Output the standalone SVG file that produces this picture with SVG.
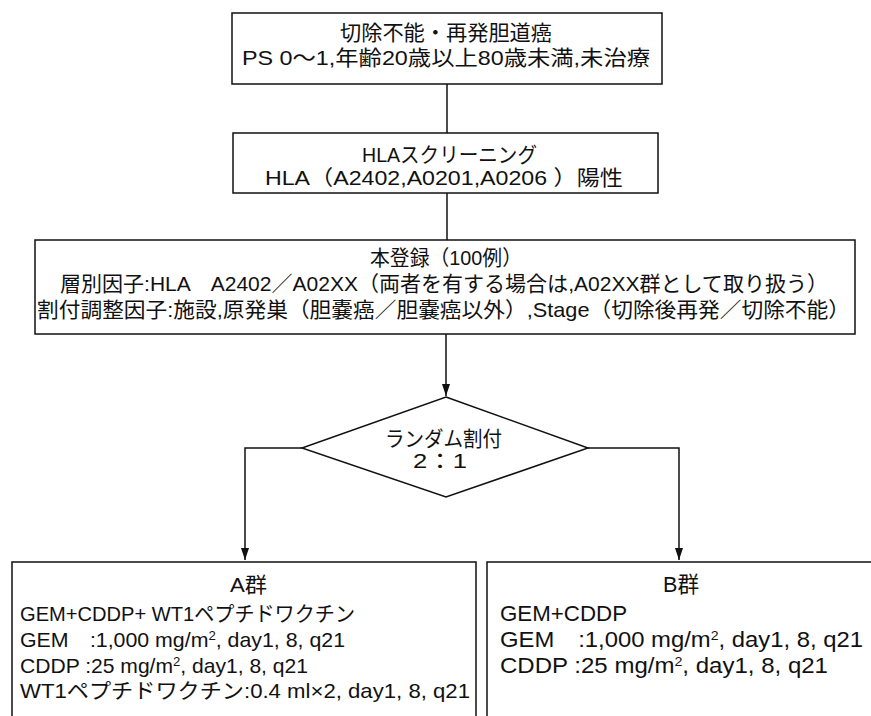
<svg xmlns="http://www.w3.org/2000/svg" width="871" height="716" viewBox="0 0 871 716">
<style>
.box{fill:#fff;stroke:#111;stroke-width:1.5}
.t{font-family:"Liberation Sans","Noto Sans CJK JP",sans-serif;font-size:21px;fill:#111}
.b{font-size:22px}
.ln{fill:none;stroke:#111;stroke-width:1.5}
.sup{font-size:13px}
</style>
<defs>
<marker id="ah" viewBox="0 0 12 8" refX="12" refY="4" markerWidth="12" markerHeight="8" markerUnits="userSpaceOnUse" orient="auto">
<path d="M0,0 L12,4 L0,8 z" fill="#111"/>
</marker>
</defs>
<rect width="871" height="716" fill="#fff"/>
<g id="connectors">
<line class="ln" x1="447" y1="84" x2="447" y2="133"/>
<line class="ln" x1="447" y1="193" x2="447" y2="240"/>
<line class="ln" x1="446" y1="334" x2="446" y2="396" marker-end="url(#ah)"/>
<polyline class="ln" points="302,448 245,448 245,560" marker-end="url(#ah)"/>
<polyline class="ln" points="588,448 679,448 679,560" marker-end="url(#ah)"/>
</g>
<g id="node-eligibility">
<rect class="box" x="232" y="13" width="430" height="71"/>
<text class="t" x="340" y="40" textLength="212" lengthAdjust="spacingAndGlyphs">切除不能・再発胆道癌</text>
<text class="t" x="242" y="65" textLength="408" lengthAdjust="spacingAndGlyphs">PS 0〜1,年齢20歳以上80歳未満,未治療</text>
</g>
<g id="node-hla">
<rect class="box" x="233" y="133" width="425" height="60"/>
<text class="t" x="362" y="162" textLength="175" lengthAdjust="spacingAndGlyphs">HLAスクリーニング</text>
<text class="t" x="265" y="185" textLength="358" lengthAdjust="spacingAndGlyphs">HLA（A2402,A0201,A0206 ）陽性</text>
</g>
<g id="node-registration">
<rect class="box" x="35" y="240" width="820" height="94"/>
<text class="t" x="370" y="265" textLength="152" lengthAdjust="spacingAndGlyphs">本登録（100例）</text>
<text class="t" x="60" y="291" textLength="768" lengthAdjust="spacingAndGlyphs">層別因子:HLA　A2402／A02XX（両者を有する場合は,A02XX群として取り扱う）</text>
<text class="t" x="37" y="317" textLength="813" lengthAdjust="spacingAndGlyphs">割付調整因子:施設,原発巣（胆嚢癌／胆嚢癌以外）,Stage（切除後再発／切除不能）</text>
</g>
<g id="node-random">
<polygon class="box" points="446,397 588,448 446,497 302,448"/>
<text class="t" x="385" y="446" textLength="117" lengthAdjust="spacingAndGlyphs">ランダム割付</text>
<text class="t" x="413" y="468" textLength="54" lengthAdjust="spacingAndGlyphs">2：1</text>
</g>
<g id="node-groupA">
<path class="box" d="M12,720 L12,562 L476,562 L476,720"/>
<text class="t" x="230" y="592" textLength="37" lengthAdjust="spacingAndGlyphs">A群</text>
<text class="t" x="20" y="621" textLength="335" lengthAdjust="spacingAndGlyphs">GEM+CDDP+ WT1ペプチドワクチン</text>
<text class="t" x="20" y="647" textLength="325" lengthAdjust="spacingAndGlyphs">GEM　:1,000 mg/m<tspan class="sup" dy="-7">2</tspan><tspan dy="7">, day1, 8, q21</tspan></text>
<text class="t" x="20" y="673" textLength="288" lengthAdjust="spacingAndGlyphs">CDDP :25 mg/m<tspan class="sup" dy="-7">2</tspan><tspan dy="7">, day1, 8, q21</tspan></text>
<text class="t" x="20" y="698" textLength="450" lengthAdjust="spacingAndGlyphs">WT1ペプチドワクチン:0.4 ml×2, day1, 8, q21</text>
</g>
<g id="node-groupB">
<path class="box" d="M487,720 L487,562 L880,562"/>
<text class="t b" x="663" y="592" textLength="36" lengthAdjust="spacingAndGlyphs">B群</text>
<text class="t b" x="500" y="621" textLength="127" lengthAdjust="spacingAndGlyphs">GEM+CDDP</text>
<text class="t b" x="500" y="647" textLength="363" lengthAdjust="spacingAndGlyphs">GEM　:1,000 mg/m<tspan class="sup" dy="-7">2</tspan><tspan dy="7">, day1, 8, q21</tspan></text>
<text class="t b" x="500" y="673" textLength="328" lengthAdjust="spacingAndGlyphs">CDDP :25 mg/m<tspan class="sup" dy="-7">2</tspan><tspan dy="7">, day1, 8, q21</tspan></text>
</g>
</svg>
